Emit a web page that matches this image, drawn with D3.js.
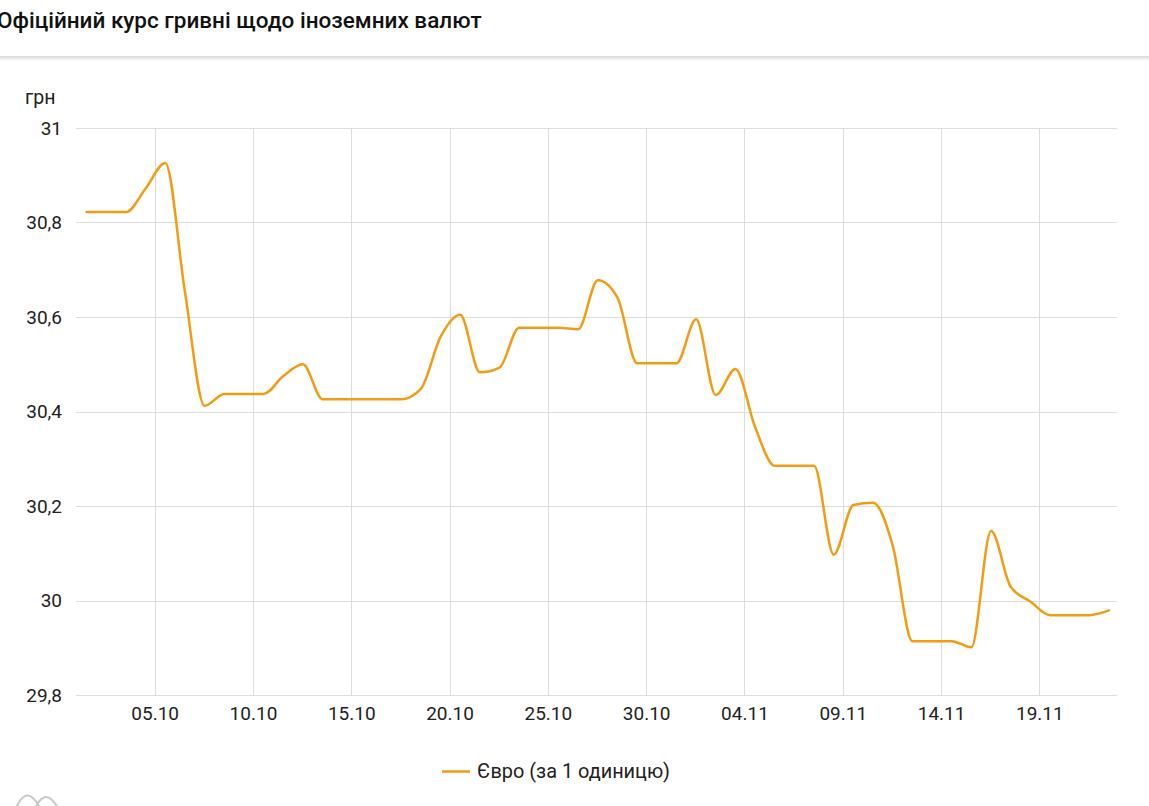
<!DOCTYPE html>
<html>
<head>
<meta charset="utf-8">
<script src="https://cdn.jsdelivr.net/npm/d3@7"></script>
<style>
  html, body { margin: 0; padding: 0; background: #fff; }
  body { width: 1149px; height: 806px; overflow: hidden; font-family: Roboto, "Noto Sans", sans-serif; }
  svg { display: block; }
</style>
</head>
<body>
<svg id="chart" width="1149" height="806"></svg>
<script>
const title = "Офіційний курс гривні щодо іноземних валют";
const unitLabel = "грн";
const seriesName = "Євро (за 1 одиницю)";
// dates (dd.mm, 2021)
const dates = [
  "01.10","02.10","03.10","04.10","05.10","06.10","07.10","08.10","09.10","10.10",
  "11.10","12.10","13.10","14.10","15.10","16.10","17.10","18.10","19.10","20.10",
  "21.10","22.10","23.10","24.10","25.10","26.10","27.10","28.10","29.10","30.10",
  "31.10","01.11","02.11","03.11","04.11","05.11","06.11","07.11","08.11","09.11",
  "10.11","11.11","12.11","13.11","14.11","15.11","16.11","17.11","18.11","19.11",
  "20.11","21.11","22.11"
];
const euro = [
  30.822,30.822,30.822,30.872,30.926,30.653,30.412,30.437,30.437,30.437,
  30.475,30.500,30.426,30.426,30.426,30.426,30.426,30.448,30.558,30.605,
  30.483,30.493,30.577,30.577,30.577,30.574,30.678,30.641,30.502,30.502,
  30.502,30.595,30.435,30.490,30.367,30.285,30.285,30.285,30.097,30.202,
  30.207,30.116,29.914,29.914,29.914,29.901,30.147,30.029,29.998,29.969,
  29.969,29.969,29.979
];
const yTicks = [29.8, 30, 30.2, 30.4, 30.6, 30.8, 31];
const xTickLabels = ["05.10","10.10","15.10","20.10","25.10","30.10","04.11","09.11","14.11","19.11"];

const YEAR = 2021;
function parseDM(s, hours) {
  const [d, m] = s.split(".").map(Number);
  return new Date(Date.UTC(YEAR, m - 1, d, hours || 0, 0));
}
// points are plotted a little past midnight of their day (as in the source)
const data = dates.map((d, i) => ({ date: parseDM(d, 13), value: euro[i] }));

const svg = d3.select("#chart");
const W = 1149, H = 806;
const plot = { left: 76, right: 1118, top: 128, bottom: 695 };
const FS = 19;

// header
const defs = svg.append("defs");
const grad = defs.append("linearGradient").attr("id", "shadow").attr("x1", 0).attr("y1", 0).attr("x2", 0).attr("y2", 1);
grad.append("stop").attr("offset", "0%").attr("stop-color", "#d9d9d9");
grad.append("stop").attr("offset", "100%").attr("stop-color", "#ffffff");
svg.append("rect").attr("x", 0).attr("y", 56).attr("width", W).attr("height", 5).attr("fill", "url(#shadow)");
svg.append("text").attr("x", -3).attr("y", 28)
  .attr("font-size", 22.5).attr("font-weight", 500).attr("fill", "#111")
  .text(title);

const x = d3.scaleUtc()
  .domain([parseDM("01.10"), parseDM("23.11")])
  .range([plot.left, plot.right]);
const y = d3.scaleLinear().domain([29.8, 31]).range([plot.bottom, plot.top]);

const grid = svg.append("g");
// horizontal gridlines
grid.selectAll("line.h").data(yTicks).join("line")
  .attr("x1", plot.left).attr("x2", plot.right - 1)
  .attr("y1", d => Math.round(y(d)) + 0.5).attr("y2", d => Math.round(y(d)) + 0.5)
  .attr("stroke", "#dcdcdc").attr("stroke-width", 1);
// vertical gridlines
const xTickDates = xTickLabels.map(s => parseDM(s));
grid.selectAll("line.v").data(xTickDates).join("line")
  .attr("x1", d => Math.round(x(d)) + 0.5).attr("x2", d => Math.round(x(d)) + 0.5)
  .attr("y1", plot.top).attr("y2", plot.bottom)
  .attr("stroke", "#dcdcdc").attr("stroke-width", 1);

// y axis labels
const yFmt = d => d3.format(".1f")(d).replace(/\.0$/, "").replace(".", ",");
const yAxis = d3.axisLeft(y).tickValues(yTicks).tickFormat(yFmt).tickSize(0).tickPadding(0);
const gy = svg.append("g").attr("transform", `translate(${plot.left - 14},0)`).call(yAxis);
gy.select(".domain").remove();
gy.selectAll("text").attr("font-size", FS).attr("fill", "#222").attr("font-family", "Roboto, sans-serif");

svg.append("text").attr("x", 25).attr("y", 104)
  .attr("font-size", 19.5).attr("fill", "#222").text(unitLabel);

// x axis labels
const xAxis = d3.axisBottom(x).tickValues(xTickDates)
  .tickFormat((d, i) => xTickLabels[i]).tickSize(0).tickPadding(0);
const gx = svg.append("g").attr("transform", `translate(0,${plot.bottom + 11})`).call(xAxis);
gx.select(".domain").remove();
gx.selectAll("text").attr("font-size", FS).attr("fill", "#222").attr("font-family", "Roboto, sans-serif");

// line
const line = d3.line().x(d => x(d.date)).y(d => y(d.value)).curve(d3.curveMonotoneX);
svg.append("path").datum(data)
  .attr("d", line)
  .attr("fill", "none")
  .attr("stroke", "#f39c12")
  .attr("stroke-width", 2.5)
  .attr("stroke-linejoin", "round")
  .attr("stroke-linecap", "round");

// legend
const lg = svg.append("g");
lg.append("line").attr("x1", 442).attr("x2", 470).attr("y1", 771.5).attr("y2", 771.5)
  .attr("stroke", "#f39c12").attr("stroke-width", 2.5);
lg.append("text").attr("x", 477).attr("y", 778)
  .attr("font-size", 19.9).attr("fill", "#222").text(seriesName);

// faint logo at bottom-left
const logo = svg.append("g").attr("fill", "none").attr("stroke", "#c8c8c8").attr("stroke-width", 2);
logo.append("path").attr("d", "M16,808 Q24,790 33,798 Q38,803 40,808");
logo.append("path").attr("d", "M36,806 Q44,792 52,800 Q56,804 58,808");
</script>
</body>
</html>
